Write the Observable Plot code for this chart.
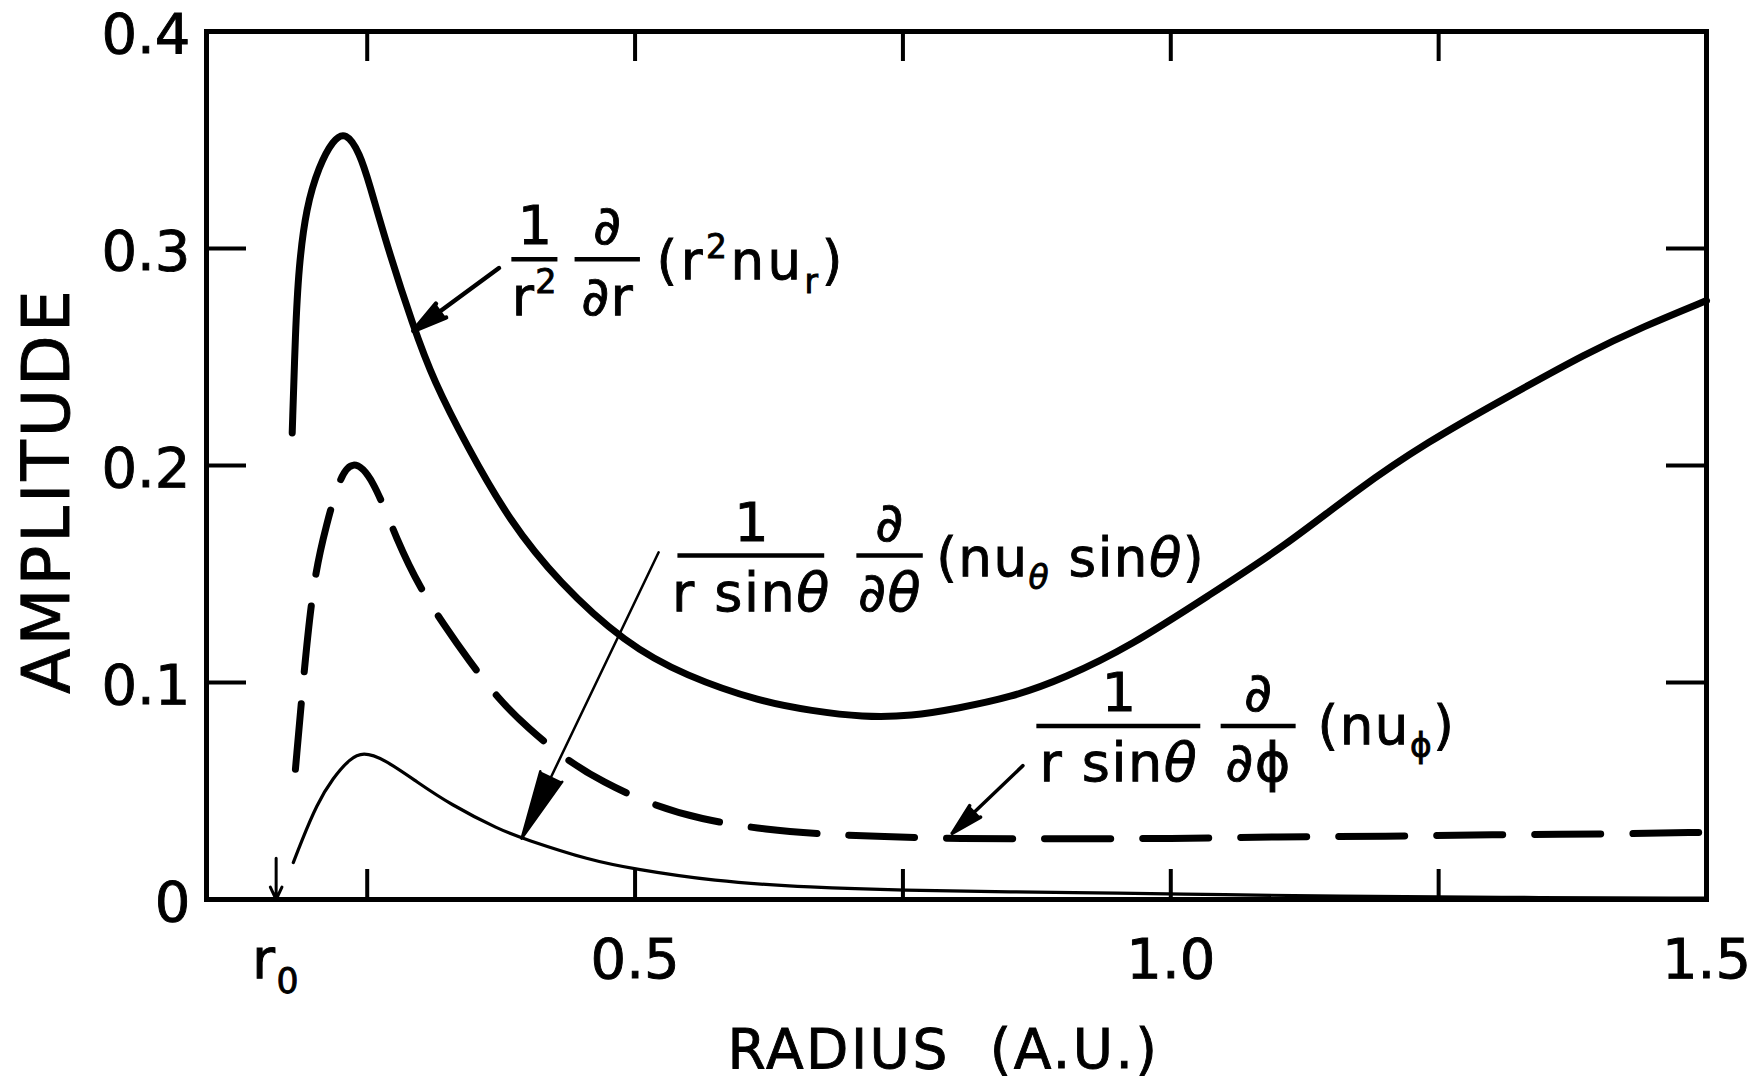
<!DOCTYPE html>
<html>
<head>
<meta charset="utf-8">
<script src="https://cdn.jsdelivr.net/npm/d3@7"></script>
<script src="https://cdn.jsdelivr.net/npm/@observablehq/plot@0.6"></script>
<style>
  html, body { margin: 0; padding: 0; background: #ffffff; }
  #chart { width: 1760px; height: 1090px; }
  #chart svg text { stroke: #000; stroke-width: 0.9px; }
</style>
</head>
<body>
<div id="chart"></div>
<script>
// ---------- data ----------
// (1/r^2) d/dr (r^2 n u_r) : thick solid
const radiusR = [0.180, 0.183, 0.186, 0.193, 0.205, 0.218, 0.230, 0.243, 0.252, 0.268, 0.293, 0.312, 0.343, 0.382, 0.429, 0.491, 0.547, 0.618, 0.665, 0.712, 0.759, 0.800, 0.850, 0.901, 0.963, 1.035, 1.107, 1.174, 1.240, 1.312, 1.389, 1.441, 1.500];
const ampR    = [0.215, 0.262, 0.291, 0.319, 0.338, 0.350, 0.354, 0.344, 0.330, 0.302, 0.264, 0.239, 0.209, 0.175, 0.146, 0.118, 0.103, 0.091, 0.087, 0.084, 0.0845, 0.088, 0.093, 0.102, 0.117, 0.140, 0.163, 0.189, 0.211, 0.231, 0.252, 0.264, 0.276];

// 1/(r sinθ) d/dθ (n u_θ sinθ) : thick dashed
const radiusTheta = [0.183, 0.191, 0.200, 0.212, 0.224, 0.236, 0.255, 0.278, 0.300, 0.321, 0.345, 0.373, 0.400, 0.434, 0.470, 0.514, 0.560, 0.623, 0.680, 0.729, 0.800, 0.900, 1.000, 1.100, 1.200, 1.300, 1.400, 1.500];
const ampTheta    = [0.060, 0.105, 0.148, 0.173, 0.194, 0.203, 0.195, 0.165, 0.143, 0.127, 0.110, 0.092, 0.079, 0.065, 0.054, 0.044, 0.037, 0.032, 0.030, 0.029, 0.028, 0.028, 0.028, 0.029, 0.029, 0.030, 0.030, 0.031];

// 1/(r sinθ) d/dφ (n u_φ) : thin solid
const radiusPhi = [0.181, 0.188, 0.203, 0.218, 0.234, 0.246, 0.265, 0.297, 0.327, 0.374, 0.396, 0.458, 0.500, 0.571, 0.665, 0.750, 0.850, 0.950, 1.050, 1.150, 1.300, 1.500];
const ampPhi    = [0.017, 0.026, 0.044, 0.056, 0.065, 0.068, 0.065, 0.054, 0.044, 0.032, 0.028, 0.018, 0.014, 0.0085, 0.0055, 0.0042, 0.0035, 0.003, 0.0022, 0.0015, 0.001, 0.0006];

// ticks
const yTickValues = [0, 0.1, 0.2, 0.3, 0.4];
const yTickLabels = ["0", "0.1", "0.2", "0.3", "0.4"];
const yInnerTicks = [0.1, 0.2, 0.3];
const xInnerTicks = [0.25, 0.5, 0.75, 1.0, 1.25];
const r0 = 0.165;
const xLabelValues = [r0, 0.5, 1.0, 1.5];
const xLabelTexts  = ["r_0", "0.5", "1.0", "1.5"];

// annotation labels (fractions): numerator / denominator over a bar
const fracNumerators   = ["1", "∂", "1", "∂", "1", "∂"];
const fracDenominators = ["r^2", "∂r", "r sinθ", "∂θ", "r sinθ", "∂ϕ"];
const fracStart = [0.385, 0.444, 0.540, 0.707, 0.875, 1.047];
const fracEnd   = [0.428, 0.505, 0.677, 0.769, 1.028, 1.117];
const fracLevel = [0.295, 0.295, 0.1585, 0.1585, 0.080, 0.080];
const parenTexts = ["(r^2nu_r)", "(nu_θ sinθ)", "(nu_ϕ)"];
const parenX = [0.520, 0.781, 1.137];
const parenY = [0.295, 0.1585, 0.081];

// pointer arrows
const arrowFromX = [0.373, 0.522, 0.862];
const arrowFromY = [0.291, 0.160, 0.0617];
const arrowToX   = [0.293, 0.394, 0.796];
const arrowToY   = [0.262, 0.028, 0.0305];

// ---------- build tables ----------
const rows = (xs, ys) => xs.map((x, i) => ({x, y: ys[i]}));
const dataR = rows(radiusR, ampR);
const dataTheta = rows(radiusTheta, ampTheta);
const dataPhi = rows(radiusPhi, ampPhi);
const fracs = fracNumerators.map((n, i) => ({
  num: n, den: fracDenominators[i], x1: fracStart[i], x2: fracEnd[i],
  xm: (fracStart[i] + fracEnd[i]) / 2, y: fracLevel[i]
}));
const parens = parenTexts.map((t, i) => ({t, x: parenX[i], y: parenY[i]}));
const arrows = arrowFromX.map((x1, i) => ({x1, y1: arrowFromY[i], x2: arrowToX[i], y2: arrowToY[i]}));

const W = 1760, H = 1090, ML = 206, MR = 54, MT = 31, MB = 191;
const FW = W - ML - MR, FH = H - MT - MB;

const chart = Plot.plot({
  width: W, height: H,
  marginLeft: ML, marginRight: MR, marginTop: MT, marginBottom: MB,
  style: {fontFamily: "DejaVu Sans", fontSize: "56px", color: "black", background: "white"},
  x: {domain: [0.1, 1.5]},
  y: {domain: [0, 0.4]},
  marks: [
    // inward ticks
    Plot.tickY(yInnerTicks, {y: d => d, insetRight: FW - 40, strokeWidth: 4}),
    Plot.tickY(yInnerTicks, {y: d => d, insetLeft: FW - 40, strokeWidth: 4}),
    Plot.tickX(xInnerTicks, {x: d => d, insetTop: FH - 30, strokeWidth: 4}),
    Plot.tickX(xInnerTicks, {x: d => d, insetBottom: FH - 30, strokeWidth: 4}),
    Plot.frame({strokeWidth: 5}),
    Plot.axisY({ticks: yTickValues, tickSize: 0, tickPadding: 16, label: null, dy: 4,
      tickFormat: d => yTickLabels[yTickValues.indexOf(d)]}),
    Plot.axisX({ticks: xLabelValues, tickSize: 0, tickPadding: 39, label: null,
      tickFormat: d => xLabelTexts[xLabelValues.indexOf(d)]}),
    // curves
    Plot.line(dataR, {x: "x", y: "y", curve: "basis", strokeWidth: 7, strokeLinecap: "round", strokeLinejoin: "round"}),
    Plot.line(dataTheta, {x: "x", y: "y", curve: "basis", strokeWidth: 7, strokeLinecap: "round", strokeDasharray: "66,32"}),
    Plot.line(dataPhi, {x: "x", y: "y", curve: "basis", strokeWidth: 3.2, strokeLinecap: "round"}),
    // r0 marker arrow
    Plot.arrow([r0], {x1: d => d, x2: d => d, y1: 0.019, y2: 0, strokeWidth: 3, headLength: 18, headAngle: 50}),
    // pointer arrows
    Plot.arrow(arrows.slice(0, 1), {x1: "x1", y1: "y1", x2: "x2", y2: "y2", stroke: "black", strokeWidth: 4.5, headLength: 40, headAngle: 28, fill: "black"}),
    Plot.arrow(arrows.slice(1, 2), {x1: "x1", y1: "y1", x2: "x2", y2: "y2", stroke: "black", strokeWidth: 2.5, headLength: 42, headAngle: 20, fill: "black"}),
    Plot.arrow(arrows.slice(2, 3), {x1: "x1", y1: "y1", x2: "x2", y2: "y2", stroke: "black", strokeWidth: 3.5, headLength: 38, headAngle: 28, fill: "black"}),
    // fraction bars and text
    Plot.ruleY(fracs, {x1: "x1", x2: "x2", y: "y", strokeWidth: 4.5}),
    Plot.text(fracs, {x: "xm", y: "y", text: "num", lineAnchor: "bottom", dy: -15, fontSize: 54}),
    Plot.text(fracs, {x: "xm", y: "y", text: "den", lineAnchor: "top", dy: 17, fontSize: 54}),
    Plot.text(parens, {x: "x", y: "y", text: "t", textAnchor: "start", lineAnchor: "middle", dy: 3, fontSize: 53}),
    // axis titles
    Plot.text(["AMPLITUDE"], {frameAnchor: "left", textAnchor: "middle", rotate: -90, dx: -159, dy: 25, fontSize: 66}),
    Plot.text(["RADIUS\u00A0 (A.U.)"], {frameAnchor: "bottom", textAnchor: "middle", dx: -13, dy: 151, lineAnchor: "middle", fontSize: 55})
  ]
});

document.getElementById("chart").appendChild(chart);

// rich text: ^x superscript, _x subscript, italic theta
const svgNS = "http://www.w3.org/2000/svg";
chart.querySelectorAll("text").forEach(t => {
  const s = t.textContent;
  if (s === "AMPLITUDE") { t.style.letterSpacing = "3px"; return; }
  if (s.startsWith("RADIUS")) { t.style.letterSpacing = "2.5px"; return; }
  if (!/[\^_θϕ∂]/.test(s)) return;
  const fs = parseFloat(getComputedStyle(t).fontSize) || 54;
  t.style.letterSpacing = s.startsWith("(r^2") ? "3.5px" : "1.5px";
  t.textContent = "";
  let shift = 0;
  for (let i = 0; i < s.length; i++) {
    let c = s[i], target = 0, small = false;
    if (c === "^" || c === "_") {
      target = c === "^" ? -0.40 * fs : 0.26 * fs;
      small = true;
      c = s[++i];
    }
    const ts = document.createElementNS(svgNS, "tspan");
    if (target !== shift) { ts.setAttribute("dy", (target - shift).toFixed(1)); shift = target; }
    if (small) ts.setAttribute("font-size", (fs * 0.62).toFixed(1));
    if (c === "θ") ts.setAttribute("font-style", "italic");
    ts.textContent = c;
    t.appendChild(ts);
  }
});
</script>
</body>
</html>
